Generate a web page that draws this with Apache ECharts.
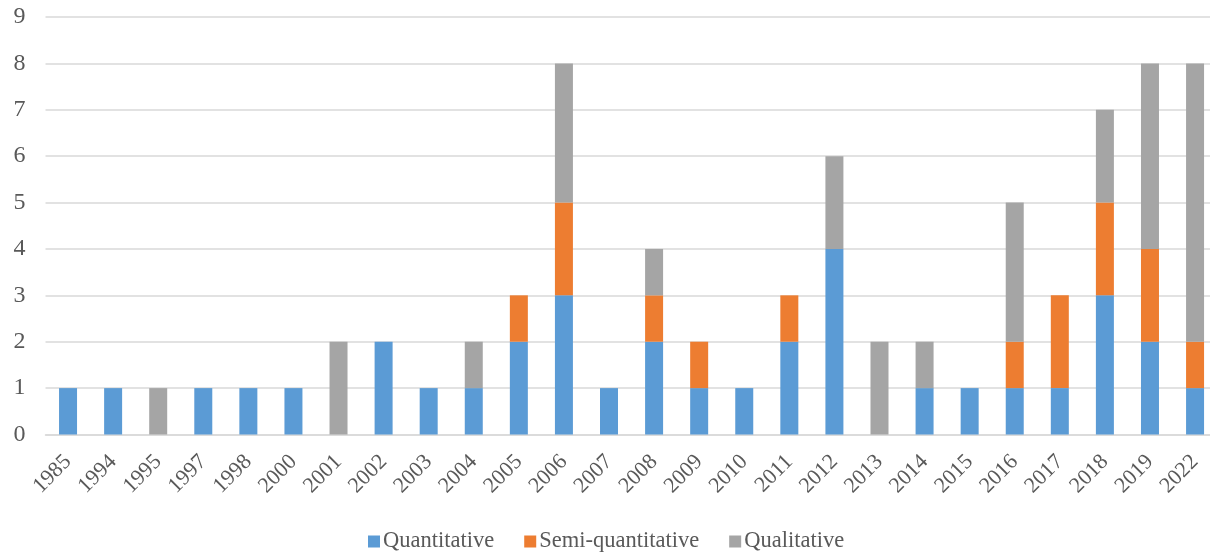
<!DOCTYPE html>
<html><head><meta charset="utf-8">
<script src="https://cdn.jsdelivr.net/npm/echarts@6/dist/echarts.min.js"></script>
<style>html,body{margin:0;padding:0;background:#fff;overflow:hidden;width:1210px;height:554px}#c{width:1218px;height:554px}</style>
</head><body><div id="c"></div>
<script>
const years = ['1985','1994','1995','1997','1998','2000','2001','2002','2003','2004','2005','2006','2007','2008','2009','2010','2011','2012','2013','2014','2015','2016','2017','2018','2019','2022'];
const quantitative     = [1,1,0,1,1,1,0,2,1,1,2,3,1,2,1,1,2,4,0,1,1,1,1,3,2,1];
const semiQuantitative = [0,0,0,0,0,0,0,0,0,0,1,2,0,1,1,0,1,0,0,0,0,1,2,2,2,1];
const qualitative      = [0,0,1,0,0,0,2,0,0,1,0,3,0,1,0,0,0,2,2,1,0,3,0,2,4,6];
const yTicks = [0,1,2,3,4,5,6,7,8,9];

const font = '"Liberation Serif","Times New Roman",serif';
const chart = echarts.init(document.getElementById('c'));
function ser(name, data, color){
  return {name, type:'bar', stack:'t', data: data.map(v=>v===0?null:v), barWidth:18,
    itemStyle:{color}, emphasis:{disabled:true}};
}
chart.setOption({
  animation:false,
  grid:{left:45.5, top:17, right:0.4, bottom:119.5},
  legend:{top:525, left:363, itemWidth:12, itemHeight:12, itemGap:30,
    icon:'rect',
    textStyle:{fontFamily:font, fontSize:22.5, color:'#595959', padding:[0,0,0,-2]},
    data:['Quantitative','Semi-quantitative','Qualitative']},
  xAxis:{type:'category', data:years,
    axisLine:{lineStyle:{color:'#d9d9d9', width:1.5}},
    axisTick:{show:false},
    axisLabel:{rotate:45, interval:0, margin:24, fontFamily:font, fontSize:22, color:'#595959'}},
  yAxis:{type:'value', min:yTicks[0], max:yTicks[yTicks.length-1], interval:1,
    axisLine:{show:false}, axisTick:{show:false},
    splitLine:{lineStyle:{color:'#d9d9d9', width:1.5}},
    axisLabel:{margin:20, fontFamily:font, fontSize:24, color:'#595959'}},
  series:[
    ser('Quantitative', quantitative, '#5B9BD5'),
    ser('Semi-quantitative', semiQuantitative, '#ED7D31'),
    ser('Qualitative', qualitative, '#A5A5A5')
  ]
});
</script></body></html>
